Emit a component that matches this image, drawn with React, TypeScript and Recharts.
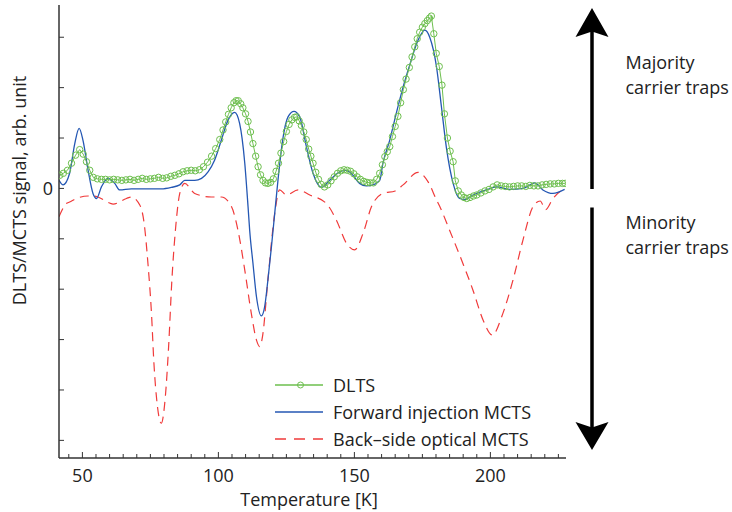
import React from "react";
import { LineChart, Line, XAxis, YAxis, Legend } from "recharts";

// ---------- data (temperature in K, signal in arb. units) ----------
const dltsT = [41.7, 43, 44.5, 46, 47.5, 49, 50.3, 51.5, 52.7, 54, 55.5, 57, 58.5, 60, 61.5, 63, 64.5, 66, 67.5, 69, 70.5, 72, 73.5, 75, 76.5, 78, 79.5, 81, 82.5, 84, 85.5, 87, 88.5, 90, 91.5, 93, 94.5, 96, 97.5, 99, 100.5, 101.7, 102.7, 103.7, 104.7, 105.7, 106.5, 107.3, 108.2, 109, 110, 110.9, 111.8, 112.7, 113.7, 114.6, 115.5, 116.4, 117.3, 118.2, 119.2, 120.2, 121.2, 122.1, 123, 124, 125, 126, 127, 128, 128.8, 129.7, 130.5, 131.4, 132.3, 133.2, 134, 134.8, 135.8, 136.8, 137.8, 139, 140.2, 141.4, 142.6, 143.8, 145, 146.2, 147.4, 148.6, 149.8, 151, 152.2, 153.4, 154.6, 155.8, 157, 158.2, 159.3, 160.3, 161.2, 162.1, 163, 164, 165, 166, 167, 168, 169, 170.2, 171.2, 172.2, 173.1, 174, 175, 175.9, 176.8, 177.6, 178.3, 179.2, 180.1, 181.2, 182.2, 183.1, 184.2, 185.2, 186.3, 187.1, 188.2, 189.3, 190.3, 191.3, 192.5, 193.8, 195, 196.5, 198, 199.5, 201, 202.5, 204, 205.5, 207, 208.5, 210, 211.5, 213, 214.5, 216, 217.5, 219, 220.5, 222, 223.5, 225, 226.5, 227.5];
const dltsY = [0.26, 0.3, 0.36, 0.5, 0.66, 0.77, 0.68, 0.53, 0.36, 0.22, 0.19, 0.18, 0.18, 0.17, 0.18, 0.17, 0.16, 0.17, 0.18, 0.16, 0.18, 0.2, 0.18, 0.19, 0.2, 0.22, 0.2, 0.21, 0.24, 0.26, 0.29, 0.33, 0.35, 0.36, 0.35, 0.37, 0.43, 0.52, 0.64, 0.79, 0.97, 1.16, 1.32, 1.47, 1.6, 1.7, 1.74, 1.74, 1.68, 1.6, 1.48, 1.33, 1.12, 0.89, 0.64, 0.43, 0.27, 0.16, 0.11, 0.1, 0.12, 0.19, 0.34, 0.5, 0.7, 0.93, 1.13, 1.27, 1.36, 1.41, 1.42, 1.34, 1.25, 1.12, 0.97, 0.78, 0.64, 0.5, 0.32, 0.18, 0.08, 0.03, 0.07, 0.15, 0.23, 0.3, 0.35, 0.37, 0.36, 0.34, 0.29, 0.23, 0.18, 0.14, 0.12, 0.11, 0.11, 0.18, 0.3, 0.47, 0.63, 0.73, 0.83, 1.03, 1.23, 1.43, 1.7, 1.96, 2.17, 2.4, 2.61, 2.81, 2.97, 3.1, 3.2, 3.27, 3.33, 3.38, 3.42, 3.07, 2.68, 2.42, 2.05, 1.48, 1.0, 0.74, 0.53, 0.15, -0.05, -0.13, -0.18, -0.2, -0.18, -0.15, -0.13, -0.09, -0.05, -0.02, 0.03, 0.07, 0.05, 0.04, 0.03, 0.04, 0.05, 0.05, 0.04, 0.06, 0.05, 0.05, 0.07, 0.08, 0.09, 0.09, 0.1, 0.1, 0.1];

const fwdT = [41.4, 42.9, 45.3, 47.2, 48.8, 50.2, 52.1, 53.9, 55.2, 57.0, 59.4, 61.9, 63.7, 68.0, 75.4, 79.0, 82.7, 85.8, 87.6, 91.3, 93.8, 96.2, 98.6, 101.1, 103.5, 106.0, 107.8, 109.7, 110.9, 111.5, 112.7, 114.0, 115.8, 117.0, 118.2, 119.5, 120.7, 121.9, 123.8, 125.6, 127.8, 129.9, 132.4, 134.8, 137.9, 140.9, 144.6, 147.1, 149.5, 151.9, 154.4, 156.8, 159.3, 160.5, 163.0, 165.4, 167.9, 170.3, 173.4, 175.9, 177.7, 180.2, 182.0, 183.8, 186.3, 188.7, 190.6, 193.6, 198.5, 202.2, 207.1, 212.0, 216.3, 219.3, 223.0, 227.3];
const fwdY = [0.16, 0.07, 0.3, 0.89, 1.19, 0.96, 0.36, -0.1, -0.2, 0.03, 0.2, 0.1, -0.03, -0.01, -0.01, -0.01, 0.02, 0.07, 0.16, 0.16, 0.2, 0.33, 0.56, 0.96, 1.35, 1.51, 1.29, 0.5, -0.36, -0.83, -1.48, -2.15, -2.53, -2.35, -1.82, -1.16, -0.5, 0.16, 1.02, 1.42, 1.53, 1.42, 0.82, 0.3, 0.02, 0.16, 0.33, 0.36, 0.26, 0.1, 0.05, 0.07, 0.16, 0.5, 0.96, 1.49, 2.01, 2.44, 2.94, 3.14, 3.0, 2.41, 1.62, 0.82, 0.1, -0.2, -0.22, -0.13, -0.03, 0.03, -0.02, 0.0, 0.11, -0.03, -0.1, -0.02];

const backT = [41.4, 44.1, 45.3, 47.8, 52.1, 53.9, 55.7, 60.0, 61.3, 66.2, 68.0, 71.1, 72.7, 74.1, 75.4, 76.3, 77.6, 79.0, 80.5, 81.7, 82.9, 84.2, 85.8, 87.6, 91.3, 97.4, 101.1, 104.8, 107.2, 109.7, 112.1, 114.0, 115.2, 116.3, 118.2, 120.7, 122.5, 125.0, 129.3, 133.6, 139.7, 143.4, 147.1, 150.1, 153.2, 156.3, 160.5, 165.0, 167.9, 173.4, 177.1, 180.2, 181.4, 185.0, 189.9, 193.6, 197.3, 200.7, 204.6, 208.3, 212.0, 215.7, 218.3, 220.3, 223.0, 227.3];
const backY = [-0.56, -0.3, -0.27, -0.2, -0.15, -0.15, -0.17, -0.29, -0.31, -0.2, -0.17, -0.33, -0.69, -1.49, -2.48, -3.47, -4.33, -4.66, -4.13, -3.14, -1.82, -0.83, -0.1, 0.1, -0.1, -0.17, -0.17, -0.36, -0.83, -1.62, -2.48, -3.01, -3.14, -2.91, -1.82, -0.5, -0.03, -0.13, -0.03, -0.13, -0.3, -0.63, -1.09, -1.22, -0.89, -0.36, -0.1, -0.05, 0.07, 0.32, 0.13, -0.23, -0.36, -0.83, -1.49, -2.02, -2.61, -2.91, -2.48, -1.82, -1.02, -0.36, -0.25, -0.42, -0.2, 0.0];

const xTicks = [45, 50, 55, 60, 65, 70, 75, 80, 85, 90, 95, 100, 105, 110, 115, 120, 125, 130, 135, 140, 145, 150, 155, 160, 165, 170, 175, 180, 185, 190, 195, 200, 205, 210, 215, 220, 225];
const xLabelTicks = [50, 100, 150, 200];
const yTicks = [-5, -4, -3, -2, -1, 0, 1, 2, 3];
const yLabelTicks = [0];

const seriesNames = ["DLTS", "Forward injection MCTS", "Back\u2013side optical MCTS"];
const noteTop = ["Majority", "carrier traps"];
const noteBottom = ["Minority", "carrier traps"];
const xTitle = "Temperature [K]";
const yTitle = "DLTS/MCTS signal, arb. unit";

const dltsData = dltsT.map((t, i) => ({ T: t, v: dltsY[i] }));
const fwdData = fwdT.map((t, i) => ({ T: t, v: fwdY[i] }));
const backData = backT.map((t, i) => ({ T: t, v: backY[i] }));

const GREEN = "#6dbf4e";
const BLUE = "#2457b3";
const RED = "#f03a3a";
const AXIS = "#333";
const TEXT = "#222";
const FONT = "'Open Sans', 'Noto Sans', sans-serif";
const FS = 18;

const BottomTick = (p: any) => {
  const { x, y, payload } = p;
  const major = xLabelTicks.includes(payload.value);
  return (
    <g>
      <line x1={x} x2={x} y1={y} y2={y - (major ? 6 : 4)} stroke={AXIS} strokeWidth={1} />
      {major && (
        <text x={x} y={y + 24} textAnchor="middle" fontSize={FS} fill={TEXT} fontFamily={FONT}>
          {payload.value}
        </text>
      )}
    </g>
  );
};
const TopTick = (p: any) => {
  const { x, y, payload } = p;
  const major = xLabelTicks.includes(payload.value);
  return <line x1={x} x2={x} y1={y} y2={y + (major ? 6 : 4)} stroke={AXIS} strokeWidth={1} />;
};
const LeftTick = (p: any) => {
  const { x, y, payload } = p;
  return (
    <g>
      <line x1={x} x2={x + 5} y1={y} y2={y} stroke={AXIS} strokeWidth={1} />
      {yLabelTicks.includes(payload.value) && (
        <text x={x - 6} y={y + 7} textAnchor="end" fontSize={FS} fill={TEXT} fontFamily={FONT}>
          {payload.value}
        </text>
      )}
    </g>
  );
};
const RightTick = (p: any) => {
  const { x, y } = p;
  return <line x1={x} x2={x - 5} y1={y} y2={y} stroke={AXIS} strokeWidth={1} />;
};

const LegendBox = () => {
  const colors = [GREEN, BLUE, RED];
  return (
    <svg width={300} height={84} style={{ overflow: "visible" }}>
      {seriesNames.map((n, i) => {
        const cy = 15 + i * 27;
        return (
          <g key={n}>
            <line
              x1={5}
              x2={53}
              y1={cy}
              y2={cy}
              stroke={colors[i]}
              strokeWidth={1.3}
              strokeDasharray={i === 2 ? "11 8" : undefined}
            />
            {i === 0 && <circle cx={30.5} cy={cy} r={3} fill="none" stroke={GREEN} strokeWidth={1} />}
            <text x={63} y={cy + 6.5} fontSize={FS} fill={TEXT} fontFamily={FONT}>
              {n}
            </text>
          </g>
        );
      })}
    </svg>
  );
};

const dot = { r: 3.2, fill: "none", stroke: GREEN, strokeWidth: 1 };

export default function App() {
  return (
    <div style={{ position: "absolute", left: 0, top: 0, width: 732, height: 512, fontFamily: FONT, background: "#fff" }}>
      <LineChart width={732} height={512} margin={{ top: 5, right: 166, bottom: 0, left: 0 }}>
        <XAxis
          xAxisId="b"
          dataKey="T"
          type="number"
          domain={[41.4, 227.8]}
          allowDataOverflow
          ticks={xTicks}
          interval={0}
          height={54}
          tickSize={0}
          tickMargin={0}
          tickLine={false}
          tick={BottomTick}
          axisLine={{ stroke: AXIS, strokeWidth: 1.5 }}
        />
        <XAxis
          xAxisId="t"
          orientation="top"
          dataKey="T"
          type="number"
          domain={[41.4, 227.8]}
          allowDataOverflow
          ticks={xTicks}
          interval={0}
          height={0}
          tickSize={0}
          tickMargin={0}
          tickLine={false}
          tick={TopTick}
          axisLine={{ stroke: AXIS, strokeWidth: 1.5 }}
        />
        <YAxis
          yAxisId="l"
          type="number"
          domain={[-5.35, 3.64]}
          allowDataOverflow
          ticks={yTicks}
          interval={0}
          width={59}
          tickSize={0}
          tickMargin={0}
          tickLine={false}
          tick={LeftTick}
          axisLine={{ stroke: AXIS, strokeWidth: 1.5 }}
        />
        <YAxis
          yAxisId="r"
          orientation="right"
          type="number"
          domain={[-5.35, 3.64]}
          allowDataOverflow
          ticks={yTicks}
          interval={0}
          width={0}
          tickSize={0}
          tickMargin={0}
          tickLine={false}
          tick={RightTick}
          axisLine={{ stroke: AXIS, strokeWidth: 1.5 }}
        />
        <Line
          xAxisId="b"
          yAxisId="l"
          data={backData}
          dataKey="v"
          name={seriesNames[2]}
          type="monotone"
          stroke={RED}
          strokeWidth={1.2}
          strokeDasharray="9 6"
          dot={false}
          isAnimationActive={false}
        />
        <Line
          xAxisId="b"
          yAxisId="l"
          data={fwdData}
          dataKey="v"
          name={seriesNames[1]}
          type="monotone"
          stroke={BLUE}
          strokeWidth={1.3}
          dot={false}
          isAnimationActive={false}
        />
        <Line
          xAxisId="b"
          yAxisId="l"
          data={dltsData}
          dataKey="v"
          name={seriesNames[0]}
          type="linear"
          stroke={GREEN}
          strokeWidth={1}
          dot={dot}
          isAnimationActive={false}
        />
        <Legend
          layout="vertical"
          align="center"
          verticalAlign="middle"
          content={LegendBox}
          wrapperStyle={{ left: 270, top: 370, width: 300, height: 84 }}
        />
      </LineChart>
      <svg
        width={732}
        height={512}
        style={{ position: "absolute", left: 0, top: 0, pointerEvents: "none" }}
      >
        <text transform="translate(26,190.5) rotate(-90)" textAnchor="middle" fontSize={FS} fill={TEXT} fontFamily={FONT}>
          {yTitle}
        </text>
        <text x={309} y={506} textAnchor="middle" fontSize={FS} fill={TEXT} fontFamily={FONT}>
          {xTitle}
        </text>
        {/* up arrow */}
        <line x1={592} x2={592} y1={30} y2={189} stroke="#000" strokeWidth={3.5} />
        <path d="M592,8 L608.5,37 L592,31.5 L575.5,37 Z" fill="#000" />
        {/* down arrow */}
        <line x1={592} x2={592} y1={207.5} y2={430} stroke="#000" strokeWidth={3.5} />
        <path d="M592,450 L608.5,422 L592,427.5 L575.5,422 Z" fill="#000" />
        <text x={625.5} y={69} fontSize={FS} fill={TEXT} fontFamily={FONT}>{noteTop[0]}</text>
        <text x={625.5} y={93.5} fontSize={FS} fill={TEXT} fontFamily={FONT}>{noteTop[1]}</text>
        <text x={625.5} y={228.5} fontSize={FS} fill={TEXT} fontFamily={FONT}>{noteBottom[0]}</text>
        <text x={625.5} y={253.5} fontSize={FS} fill={TEXT} fontFamily={FONT}>{noteBottom[1]}</text>
      </svg>
    </div>
  );
}
